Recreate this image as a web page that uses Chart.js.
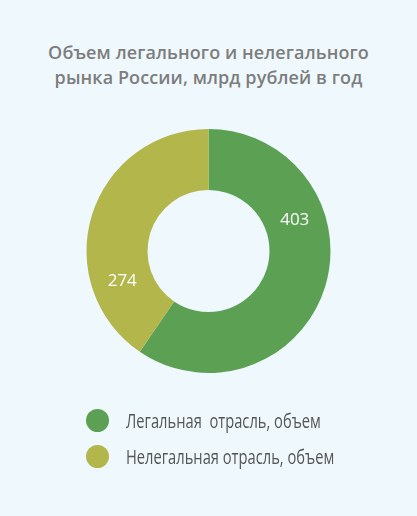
<!DOCTYPE html>
<html>
<head>
<meta charset="utf-8">
<script src="https://cdn.jsdelivr.net/npm/chart.js@4"></script>
<style>
  html, body { margin: 0; padding: 0; }
  body { width: 417px; height: 516px; background: #eff9fd; position: relative; overflow: hidden; }
  #title {
    position: absolute; top: 40px; left: 0; width: 417px; text-align: center;
    font-family: "Open Sans", sans-serif; font-weight: 600; font-size: 18px;
    line-height: 25px; color: #7d7d7d; letter-spacing: 0.1px;
  }
  #chart-box { position: absolute; left: 0; top: 0; width: 417px; height: 516px; }
  #legend { position: absolute; left: 86px; top: 402px; margin: 0; padding: 0; list-style: none; }
  #legend li {
    display: flex; align-items: center; height: 36px;
    font-family: "Open Sans", sans-serif;
    font-size: 20px; color: #555; white-space: pre;
  }
  #legend span.dot { width: 23px; height: 23px; border-radius: 50%; margin-right: 17px; flex: none; }
  #legend span.name { display: inline-block; transform: scaleX(0.735); transform-origin: left center; }
</style>
</head>
<body>
<div id="title">Объем легального и нелегального<br>рынка России, млрд рублей в год</div>
<div id="chart-box"><canvas id="market-chart"></canvas></div>
<ul id="legend"></ul>
<script>
// Chart data
const categories = ["Легальная  отрасль, объем", "Нелегальная отрасль, объем"]
const volumes = [403, 274]
const colors = ['#5ca153', '#b3b64a']

// Draw the value inside each slice
const sliceLabels = {
    id: 'sliceLabels',
    afterDatasetsDraw(chart) {
        const ctx = chart.ctx
        const meta = chart.getDatasetMeta(0)
        ctx.save()
        ctx.fillStyle = '#ffffff'
        ctx.font = '17px "Open Sans", sans-serif'
        ctx.textAlign = 'center'
        ctx.textBaseline = 'middle'
        meta.data.forEach((arc, i) => {
            const p = arc.getProps(['x', 'y', 'startAngle', 'endAngle', 'innerRadius', 'outerRadius'])
            const angle = (p.startAngle + p.endAngle) / 2 - 0.64
            const r = (p.innerRadius + p.outerRadius) / 2
            ctx.fillText(volumes[i], p.x + Math.cos(angle) * r, p.y + Math.sin(angle) * r)
        })
        ctx.restore()
    }
}

ctx = document.getElementById("market-chart")
const marketChart = new Chart(ctx, {
    type: "doughnut",
    data: {
        labels: categories,
        datasets: [{
            data: volumes,
            backgroundColor: colors,
            borderWidth: 0
        }]
    },
    options: {
        responsive: true,
        maintainAspectRatio: false,
        animation: false,
        cutout: '50%',
        layout: {
            padding: { top: 129, bottom: 143, left: 86, right: 86 }
        },
        plugins: {
            legend: { display: false },
            tooltip: { enabled: false }
        }
    },
    plugins: [sliceLabels]
})

// Building the legend
const legend = document.getElementById("legend")
categories.forEach((name, i) => {
    const li = document.createElement('li')
    const dot = document.createElement('span')
    dot.className = 'dot'
    dot.style.background = colors[i]
    const text = document.createElement('span')
    text.className = 'name'
    text.textContent = name
    li.appendChild(dot)
    li.appendChild(text)
    legend.appendChild(li)
})
</script>
</body>
</html>
